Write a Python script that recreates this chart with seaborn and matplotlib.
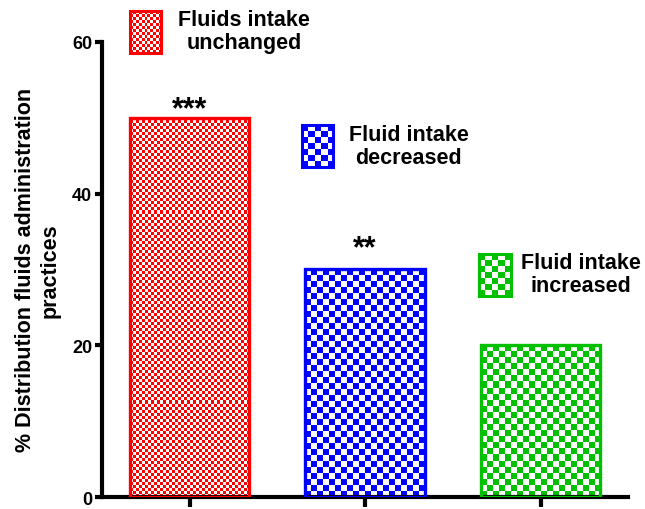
import numpy as np
import matplotlib
matplotlib.use("Agg")
import matplotlib.pyplot as plt
from matplotlib.patches import Rectangle
from matplotlib.colors import to_rgb
import seaborn as sns

categories = ["Fluids intake\nunchanged", "Fluid intake\ndecreased", "Fluid intake\nincreased"]
values = [50, 30, 20]
colors = ["#ff0000", "#0000ff", "#00c000"]
cell_px = [3, 6, 6]
stars = ["***", "**", ""]
yticks = [0, 20, 40, 60]
ylabel = "% Distribution fluids administration\npractices"

sns.set_style("white")
plt.rcParams['font.family'] = ['Liberation Sans', 'DejaVu Sans']
plt.rcParams['font.weight'] = 'bold'
for k in ['text.color', 'axes.labelcolor', 'xtick.color', 'ytick.color']:
    plt.rcParams[k] = 'black'

fig = plt.figure(figsize=(6.45, 5.1), dpi=100)
ax = fig.add_axes([0.158, 0.0235, 0.816, 0.8925])

sns.barplot(x=list(range(len(values))), y=values, hue=list(range(len(values))),
            palette=colors, width=0.68, legend=False, ax=ax)
ax.set_xlim(-0.5, 2.5)
ax.set_ylim(0, 60)


def texture(ax, x0, x1, y0, y1, color, cell, clip_patch=None):
    p0 = ax.transData.transform((x0, y0))
    p1 = ax.transData.transform((x1, y1))
    w = abs(p1[0] - p0[0]); h = abs(p1[1] - p0[1])
    nx = max(1, int(round(w / cell))); ny = max(1, int(round(h / cell)))
    ii, jj = np.indices((ny, nx))
    mask = (ii + jj) % 2 == 0
    img = np.ones((ny, nx, 3))
    img[mask] = to_rgb(color)
    im = ax.imshow(img, extent=(x0, x1, y0, y1), origin='lower', aspect='auto',
                   interpolation='nearest', zorder=2)
    im.set_clip_on(False)
    if clip_patch is not None:
        im.set_clip_path(clip_patch)
    return im


bars = [p for p in ax.patches]
for bar, c, cp in zip(bars, colors, cell_px):
    x0 = bar.get_x(); w = bar.get_width(); h = bar.get_height()
    bar.set_facecolor('none')
    bar.set_edgecolor(c)
    bar.set_linewidth(2.4)
    bar.set_zorder(3)
    texture(ax, x0, x0 + w, 0, h, c, cp, clip_patch=bar)

ax.set_aspect('auto')
ax.set_xlim(-0.5, 2.5)
ax.set_ylim(0, 60)

# significance stars (baseline positions)
star_y = [50.1, 31.8, 0]
for i, (s, sy) in enumerate(zip(stars, star_y)):
    if s:
        ax.text(i, sy, s, ha='center', va='baseline', fontsize=22, fontweight='bold')

# legend-like labels next to small patches
leg_pos = [(-0.342, 58.5, 0.31, 61.4), (0.64, 43.5, 1.25, 46.3), (1.65, 26.5, 2.23, 29.4)]
for (px, py, tx, ty), c, cp, lab in zip(leg_pos, colors, cell_px, categories):
    rw, rh = 0.18, 5.5
    r = Rectangle((px, py), rw, rh, facecolor='none', edgecolor=c, linewidth=2.2,
                  clip_on=False, zorder=4)
    ax.add_patch(r)
    texture(ax, px, px + rw, py, py + rh, c, cp, clip_patch=r)
    ax.text(tx, ty, lab, ha='center', va='center', fontsize=15.5, fontweight='bold',
            linespacing=1.1, clip_on=False)

ax.set_xlim(-0.5, 2.5)
ax.set_ylim(0, 60)
ax.set_yticks(yticks)
ax.set_yticklabels([str(t) for t in yticks], fontsize=13, fontweight='bold')
ax.set_xticks(range(len(values)))
ax.set_xticklabels([])
ax.set_xlabel("")
ax.set_ylabel(ylabel, fontsize=15.5, fontweight='bold', labelpad=8, linespacing=1.25)

for s in ['top', 'right']:
    ax.spines[s].set_visible(False)
for s in ['left', 'bottom']:
    ax.spines[s].set_linewidth(3)
    ax.spines[s].set_color('black')
ax.tick_params(axis='y', direction='out', length=5, width=3, pad=2, left=True)
ax.tick_params(axis='x', direction='out', length=7, width=3, bottom=True)

fig.savefig("out.png", dpi=100)
